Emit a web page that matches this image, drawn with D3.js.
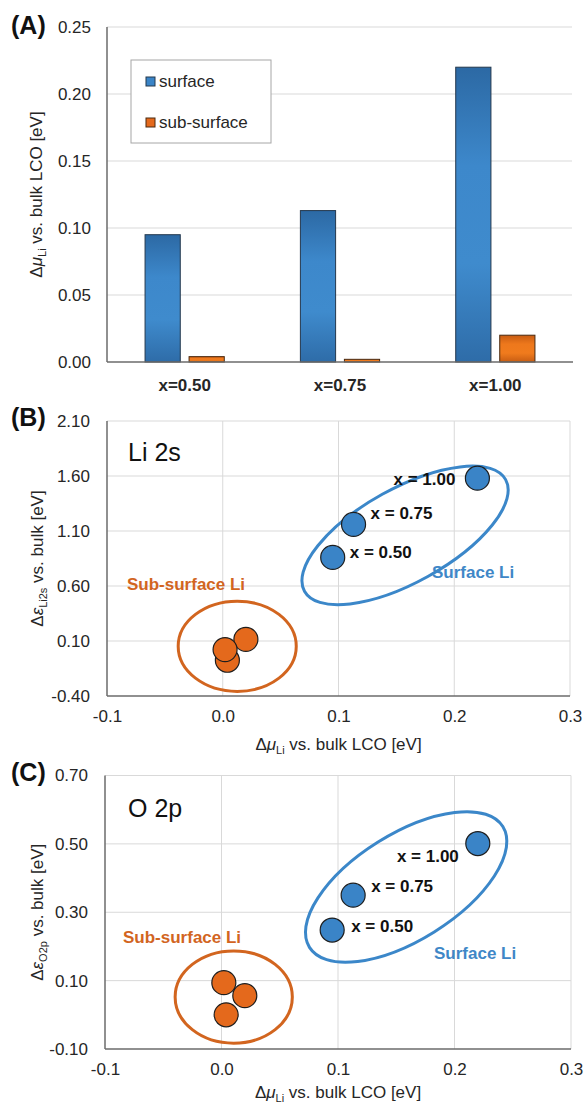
<!DOCTYPE html>
<html>
<head>
<meta charset="utf-8">
<script src="https://cdn.jsdelivr.net/npm/d3@7"></script>
<style>
  body { margin: 0; background: #fff; }
  svg { font-family: "Liberation Sans", Arial, Helvetica, sans-serif; }
</style>
</head>
<body>
<div class="svg-container"></div>
<script>
// values
let categories = ['x=0.50', 'x=0.75', 'x=1.00']
let pointLabels = ['x = 0.50', 'x = 0.75', 'x = 1.00']
let surfaceMu = [0.095, 0.113, 0.220]
let subSurfaceMu = [0.004, 0.002, 0.020]
let surfaceLi2s = [0.86, 1.16, 1.58]
let subSurfaceLi2s = [-0.075, 0.022, 0.115]
let surfaceO2p = [0.248, 0.350, 0.501]
let subSurfaceO2p = [0.000, 0.094, 0.056]
let barTicks = [0, 0.05, 0.10, 0.15, 0.20, 0.25]
let muTicks = [-0.1, 0.0, 0.1, 0.2, 0.3]
let li2sTicks = [-0.40, 0.10, 0.60, 1.10, 1.60, 2.10]
let o2pTicks = [-0.10, 0.10, 0.30, 0.50, 0.70]

let width = 586
let height = 1106
let blue = '#3a84c7'
let orange = '#e4691c'
let gridColor = '#d9d9d9'
let axisColor = '#6b6b6b'
let textColor = '#262626'

let svg = d3.select('.svg-container')
  .append('svg')
  .attr('width', width)
  .attr('height', height)

let defs = svg.append('defs')
function addGradient (id, stops) {
  let g = defs.append('linearGradient')
    .attr('id', id)
    .attr('x1', 0).attr('y1', 0).attr('x2', 0).attr('y2', 1)
  stops.forEach((c, i) => g.append('stop')
    .attr('offset', `${i * 100 / (stops.length - 1)}%`)
    .attr('stop-color', c))
}
addGradient('blueGrad', ['#2c69a4', '#3d88cb', '#3f8bcd', '#2e6ca8'])
addGradient('orangeGrad', ['#c85c12', '#ee781c', '#f07b1d', '#c85d13'])

function yTitle (g, x, y, sym, italic, sub, rest) {
  let t = g.append('text')
    .attr('transform', `translate(${x}, ${y}) rotate(-90)`)
    .attr('text-anchor', 'middle')
    .style('font-size', '17px')
    .attr('fill', textColor)
  t.append('tspan').text('Δ')
  t.append('tspan').style('font-style', italic ? 'italic' : 'normal').text(sym)
  t.append('tspan').attr('dy', 4).style('font-size', '11px').text(sub)
  t.append('tspan').attr('dy', -4).text(rest)
}

function xTitle (g, x, y) {
  let t = g.append('text')
    .attr('x', x)
    .attr('y', y)
    .attr('text-anchor', 'middle')
    .style('font-size', '17px')
    .attr('fill', textColor)
  t.append('tspan').text('Δ')
  t.append('tspan').style('font-style', 'italic').text('μ')
  t.append('tspan').attr('dy', 4).style('font-size', '11px').text('Li')
  t.append('tspan').attr('dy', -4).text(' vs. bulk LCO [eV]')
}

function panelLetter (txt, y) {
  svg.append('text')
    .attr('x', 11)
    .attr('y', y)
    .style('font-size', '25px')
    .style('font-weight', 'bold')
    .attr('fill', '#111')
    .text(txt)
}

// ---------- (A) bar chart ----------
function barGraph () {
  let left = 107, right = 573, top = 27, bottom = 362
  let yScale = d3.scaleLinear().domain([0, 0.25]).range([bottom, top])
  let xScale = d3.scaleBand().domain(categories).range([left, right])
    .paddingInner(0.49).paddingOuter(0.245)
  let subScale = d3.scaleBand().domain(['surface', 'sub-surface'])
    .range([0, xScale.bandwidth()]).paddingInner(0.2)

  let g = svg.append('g')

  g.selectAll('.grid')
    .data(barTicks.slice(1))
    .enter()
    .append('line')
    .attr('x1', left).attr('x2', right - 1)
    .attr('y1', d => yScale(d)).attr('y2', d => yScale(d))
    .attr('stroke', gridColor)
    .attr('stroke-width', 1)

  let yAxis = d3.axisLeft(yScale).tickValues(barTicks)
    .tickFormat(d => d.toFixed(2)).tickSize(0).tickPadding(16)
  g.append('g')
    .attr('transform', `translate(${left}, 0)`)
    .call(yAxis)
    .call(a => a.select('.domain').remove())
    .selectAll('text')
    .style('font-size', '17px')
    .style('font-family', 'inherit')
    .attr('fill', textColor)

  let rows = categories.map((c, i) => ({ cat: c, surface: surfaceMu[i], 'sub-surface': subSurfaceMu[i] }))
  let groups = g.selectAll('.grp')
    .data(rows)
    .enter()
    .append('g')
    .attr('transform', d => `translate(${xScale(d.cat)}, 0)`)
  groups.selectAll('rect')
    .data(d => ['surface', 'sub-surface'].map(k => ({ key: k, value: d[k] })))
    .enter()
    .append('rect')
    .attr('x', d => subScale(d.key))
    .attr('width', subScale.bandwidth())
    .attr('y', d => yScale(d.value))
    .attr('height', d => yScale(0) - yScale(d.value))
    .attr('fill', d => d.key === 'surface' ? 'url(#blueGrad)' : 'url(#orangeGrad)')
    .attr('stroke', d => d.key === 'surface' ? '#24384d' : '#4a2a10')
    .attr('stroke-width', 1)

  g.append('line')
    .attr('x1', left).attr('x2', left)
    .attr('y1', top).attr('y2', bottom)
    .attr('stroke', axisColor).attr('stroke-width', 1.5)
  g.append('line')
    .attr('x1', left).attr('x2', right)
    .attr('y1', bottom).attr('y2', bottom)
    .attr('stroke', axisColor).attr('stroke-width', 1.5)

  g.selectAll('.cat')
    .data(categories)
    .enter()
    .append('text')
    .attr('x', d => xScale(d) + xScale.bandwidth() / 2)
    .attr('y', 391)
    .attr('text-anchor', 'middle')
    .style('font-size', '17px')
    .style('font-weight', 'bold')
    .attr('fill', textColor)
    .text(d => d)

  // legend
  let legend = g.append('g')
  legend.append('rect')
    .attr('x', 131).attr('y', 60).attr('width', 140).attr('height', 83)
    .attr('fill', '#fff').attr('stroke', '#a6a6a6').attr('stroke-width', 1)
  let keys = [['surface', blue, '#24384d'], ['sub-surface', orange, '#4a2a10']]
  keys.forEach((k, i) => {
    legend.append('rect')
      .attr('x', 146).attr('y', 77 + i * 41).attr('width', 9).attr('height', 9)
      .attr('fill', k[1]).attr('stroke', k[2]).attr('stroke-width', 1)
    legend.append('text')
      .attr('x', 159).attr('y', 87 + i * 41)
      .style('font-size', '17px')
      .attr('fill', textColor)
      .text(k[0])
  })

  yTitle(g, 42, (top + bottom) / 2, 'μ', true, 'Li', ' vs. bulk LCO [eV]')
  panelLetter('(A)', 34)
}

// ---------- (B), (C) scatter ----------
function scatterGraph (opts) {
  let xScale = d3.scaleLinear().domain([-0.1, 0.3]).range([opts.left, opts.right])
  let yScale = d3.scaleLinear().domain(d3.extent(opts.yTicks)).range([opts.bottom, opts.top])
  let g = svg.append('g')

  g.selectAll('.hgrid')
    .data(opts.yTicks.slice(1))
    .enter()
    .append('line')
    .attr('x1', opts.left).attr('x2', opts.right)
    .attr('y1', d => yScale(d)).attr('y2', d => yScale(d))
    .attr('stroke', gridColor)
  g.selectAll('.vgrid')
    .data(muTicks.slice(1))
    .enter()
    .append('line')
    .attr('x1', d => xScale(d)).attr('x2', d => xScale(d))
    .attr('y1', opts.top).attr('y2', opts.bottom)
    .attr('stroke', gridColor)

  g.append('line')
    .attr('x1', opts.left).attr('x2', opts.left)
    .attr('y1', opts.top).attr('y2', opts.bottom)
    .attr('stroke', axisColor).attr('stroke-width', 1.5)
  g.append('line')
    .attr('x1', opts.left).attr('x2', opts.right)
    .attr('y1', opts.bottom).attr('y2', opts.bottom)
    .attr('stroke', axisColor).attr('stroke-width', 1.5)

  let yAxis = d3.axisLeft(yScale).tickValues(opts.yTicks)
    .tickFormat(d => d.toFixed(2)).tickSize(0).tickPadding(17)
  g.append('g')
    .attr('transform', `translate(${opts.left}, 0)`)
    .call(yAxis)
    .call(a => a.select('.domain').remove())
    .selectAll('text')
    .style('font-size', '17px')
    .style('font-family', 'inherit')
    .attr('fill', textColor)

  let xAxis = d3.axisBottom(xScale).tickValues(muTicks)
    .tickFormat(d => d.toFixed(1)).tickSize(0).tickPadding(14)
  g.append('g')
    .attr('transform', `translate(0, ${opts.bottom})`)
    .call(xAxis)
    .call(a => a.select('.domain').remove())
    .selectAll('text')
    .style('font-size', '17px')
    .style('font-family', 'inherit')
    .attr('fill', textColor)

  // group outlines
  let sub = opts.subEllipse
  g.append('ellipse')
    .attr('cx', xScale(sub.x)).attr('cy', yScale(sub.y))
    .attr('rx', xScale(sub.x + sub.dx) - xScale(sub.x))
    .attr('ry', yScale(sub.y) - yScale(sub.y + sub.dy))
    .attr('fill', 'none').attr('stroke', '#d2651f').attr('stroke-width', 3)
  let sur = opts.surfEllipse
  g.append('ellipse')
    .attr('transform', `translate(${xScale(sur.x)}, ${yScale(sur.y)}) rotate(${sur.angle})`)
    .attr('rx', sur.rx).attr('ry', sur.ry)
    .attr('fill', 'none').attr('stroke', '#3b87c9').attr('stroke-width', 3)

  let subPoints = subSurfaceMu.map((m, i) => ({ x: m, y: opts.subValues[i] }))
  g.selectAll('.sub')
    .data(subPoints.slice().sort((a, b) => b.x - a.x))
    .enter()
    .append('circle')
    .attr('cx', d => xScale(d.x))
    .attr('cy', d => yScale(d.y))
    .attr('r', 12)
    .attr('fill', orange)
    .attr('stroke', '#1e1e1e')
    .attr('stroke-width', 1.2)

  let surfPoints = surfaceMu.map((m, i) => ({ x: m, y: opts.surfValues[i], label: pointLabels[i], off: opts.labelOffsets[i] }))
  g.selectAll('.surf')
    .data(surfPoints)
    .enter()
    .append('circle')
    .attr('cx', d => xScale(d.x))
    .attr('cy', d => yScale(d.y))
    .attr('r', 12)
    .attr('fill', blue)
    .attr('stroke', '#1e1e1e')
    .attr('stroke-width', 1.2)
  g.selectAll('.lbl')
    .data(surfPoints)
    .enter()
    .append('text')
    .attr('x', d => xScale(d.x) + d.off[0])
    .attr('y', d => yScale(d.y) + d.off[1])
    .attr('dy', '0.35em')
    .attr('text-anchor', d => d.off[0] < 0 ? 'end' : 'start')
    .style('font-size', '17px')
    .style('font-weight', 'bold')
    .attr('fill', '#111')
    .text(d => d.label)

  g.append('text')
    .attr('x', opts.subText[0]).attr('y', opts.subText[1])
    .attr('dy', '0.35em')
    .style('font-size', '17px').style('font-weight', 'bold')
    .attr('fill', '#d2651f')
    .text('Sub-surface Li')
  g.append('text')
    .attr('x', opts.surfText[0]).attr('y', opts.surfText[1])
    .attr('dy', '0.35em')
    .style('font-size', '17px').style('font-weight', 'bold')
    .attr('fill', '#3f87c7')
    .text('Surface Li')

  g.append('text')
    .attr('x', 128).attr('y', opts.top + opts.nameDy)
    .style('font-size', '25px')
    .attr('fill', '#111')
    .text(opts.name)

  yTitle(g, 43, (opts.top + opts.bottom) / 2, 'ε', true, opts.sub, ' vs. bulk [eV]')
  xTitle(g, (opts.left + opts.right) / 2, opts.bottom + opts.titleDy)
  panelLetter(opts.letter, opts.top + 5)
}

barGraph()

scatterGraph({
  letter: '(B)', name: 'Li 2s', sub: 'Li2s', nameDy: 40, titleDy: 54,
  left: 107, right: 570, top: 421, bottom: 696,
  yTicks: li2sTicks, surfValues: surfaceLi2s, subValues: subSurfaceLi2s,
  labelOffsets: [[17, -5], [17, -11], [-22, 1]],
  subEllipse: { x: 0.0125, y: 0.052, dx: 0.051, dy: 0.41 },
  surfEllipse: { x: 0.1575, y: 1.06, angle: -29, rx: 115, ry: 47 },
  subText: [127, 584], surfText: [432, 572]
})

scatterGraph({
  letter: '(C)', name: 'O 2p', sub: 'O2p', nameDy: 41, titleDy: 49,
  left: 105, right: 571, top: 775.5, bottom: 1049,
  yTicks: o2pTicks, surfValues: surfaceO2p, subValues: subSurfaceO2p,
  labelOffsets: [[19, -4], [18, -9], [-19, 13]],
  subEllipse: { x: 0.0105, y: 0.052, dx: 0.0503, dy: 0.135 },
  surfEllipse: { x: 0.1585, y: 0.374, angle: -32, rx: 114, ry: 53 },
  subText: [123, 937], surfText: [434, 953]
})
</script>
</body>
</html>
